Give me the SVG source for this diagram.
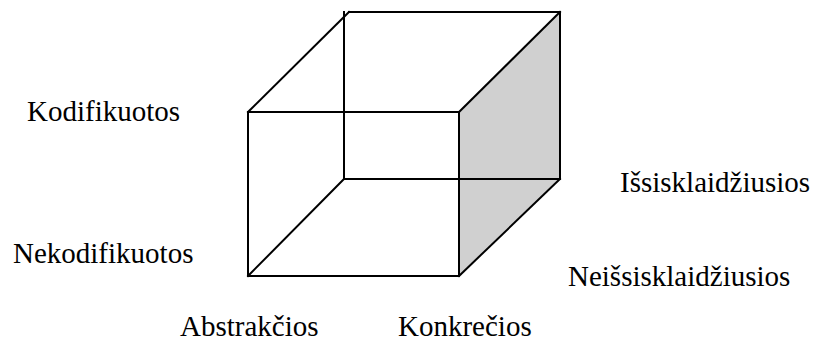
<svg xmlns="http://www.w3.org/2000/svg" width="814" height="341" viewBox="0 0 814 341">
<style>
.e{stroke:#000;stroke-width:2;fill:none;stroke-linecap:square}
.t{font-family:"Liberation Serif","Times New Roman",serif;font-size:29px;fill:#000}
</style>
<rect width="814" height="341" fill="#fff"/>
<g id="cube">
<polygon points="459,112 560,12 560,179 459,276" fill="#d0d0d0"/>
</g>
<g id="edges">
<line class="e" x1="344" y1="12" x2="344" y2="179"/>
<line class="e" x1="344" y1="179" x2="560" y2="179"/>
<line class="e" x1="248" y1="276" x2="344" y2="179"/>
<line class="e" x1="349" y1="12" x2="560" y2="12"/>
<line class="e" x1="560" y1="12" x2="560" y2="179"/>
<line class="e" x1="248" y1="112" x2="349" y2="12"/>
<line class="e" x1="459" y1="112" x2="560" y2="12"/>
<line class="e" x1="459" y1="276" x2="560" y2="179"/>
<rect class="e" x="248" y="112" width="211" height="164"/>
</g>
<g id="labels">
<text class="t" x="27" y="121">Kodifikuotos</text>
<text class="t" x="13" y="263">Nekodifikuotos</text>
<text class="t" x="620" y="192">Išsisklaidžiusios</text>
<text class="t" x="568" y="286">Neišsisklaidžiusios</text>
<text class="t" x="180" y="336">Abstrakčios</text>
<text class="t" x="398" y="336">Konkrečios</text>
</g>
</svg>
